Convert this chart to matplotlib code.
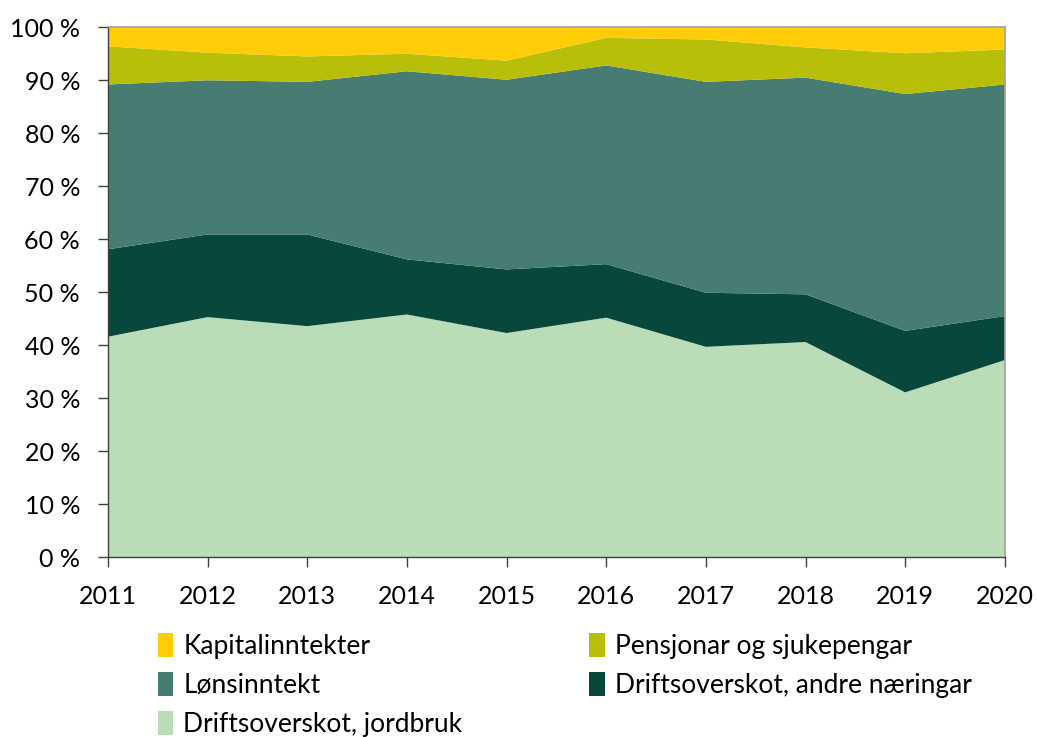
import numpy as np
import matplotlib
matplotlib.use('Agg')
import matplotlib.pyplot as plt
from matplotlib.patches import Patch

plt.rcParams['font.family'] = ['Lato', 'DejaVu Sans']

# Share of income (%) per year
years = [2011, 2012, 2013, 2014, 2015, 2016, 2017, 2018, 2019, 2020]
jordbruk = [41.6, 45.3, 43.6, 45.8, 42.3, 45.2, 39.7, 40.6, 31.1, 37.2]
andre = [16.5, 15.6, 17.3, 10.4, 12.0, 10.1, 10.2, 9.0, 11.6, 8.3]
lonn = [31.1, 29.1, 28.8, 35.5, 35.8, 37.5, 39.8, 40.9, 44.7, 43.7]
pensjon = [7.2, 5.2, 4.8, 3.3, 3.6, 5.2, 8.0, 5.7, 7.7, 6.6]
kapital = [3.6, 4.8, 5.5, 5.0, 6.3, 2.0, 2.3, 3.8, 4.9, 4.2]

labels = ['Driftsoverskot, jordbruk', 'Driftsoverskot, andre næringar',
          'Lønsinntekt', 'Pensjonar og sjukepengar', 'Kapitalinntekter']
colors = ['#badcb6', '#08473c', '#467c72', '#b8bf08', '#ffcc08']

fig = plt.figure(figsize=(10.37, 7.37), dpi=100)
ax = fig.add_axes([0.104, 0.244, 0.865, 0.719])

ax.stackplot(years, jordbruk, andre, lonn, pensjon, kapital, colors=colors, linewidth=0)

ax.set_xlim(2011, 2020)
ax.set_ylim(0, 100)
ax.set_xticks(years)
ax.set_yticks(np.arange(0, 101, 10))
ax.set_yticklabels([f'{v} %' for v in range(0, 101, 10)])
ax.tick_params(axis='both', labelsize=18, direction='out', length=7, width=1, color='#404040')
ax.tick_params(axis='x', pad=13)
ax.tick_params(axis='y', pad=13)

for s in ['top', 'right']:
    ax.spines[s].set_color('#a0a0a0')
    ax.spines[s].set_linewidth(1.2)
for s in ['left', 'bottom']:
    ax.spines[s].set_color('#404040')
    ax.spines[s].set_linewidth(1)

# legend, row-wise order as in the original
order = [4, 2, 0, 3, 1]
handles = [Patch(facecolor=colors[i], label=labels[i]) for i in order]
fig.legend(handles=handles, loc='upper left', bbox_to_anchor=(0.152, 0.141),
           ncol=2, frameon=False, fontsize=19, handlelength=0.6, handleheight=1.0,
           handletextpad=0.38, columnspacing=4.8, labelspacing=0.5,
           borderpad=0, borderaxespad=0)

fig.savefig('out.png', dpi=100)
